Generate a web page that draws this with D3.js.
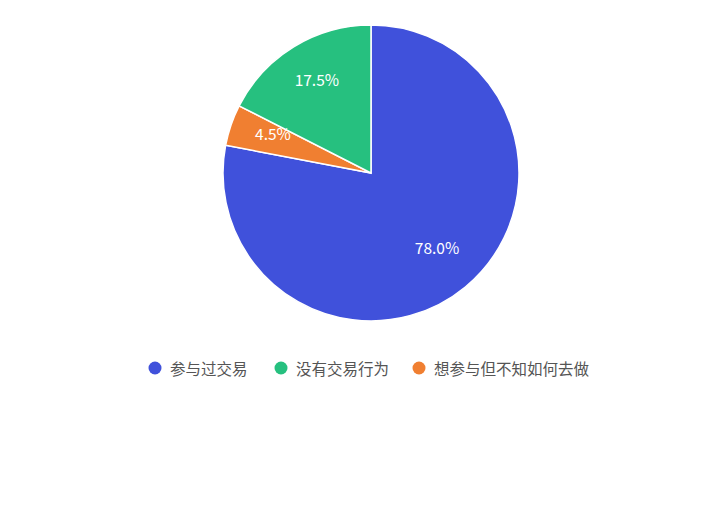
<!DOCTYPE html>
<html>
<head>
<meta charset="utf-8">
<script src="https://cdn.jsdelivr.net/npm/d3@7"></script>
<style>
  body { margin: 0; background: #fff; }
  svg { display: block; font-family: "Noto Sans CJK SC", "Noto Sans", sans-serif; }
</style>
</head>
<body>
<div id="chart"></div>
<script>
// Data
var categories = ["参与过交易", "想参与但不知如何去做", "没有交易行为"];
var values = [78.0, 4.5, 17.5];
var colors = ["#4051db", "#f07f31", "#26c07f"];
var legendOrder = [0, 2, 1];

var width = 720, height = 507;
var cx = 371, cy = 173, radius = 148;

var svg = d3.select("#chart").append("svg")
	.attr("width", width)
	.attr("height", height);

var pie = d3.pie().sort(null).value(function(d){ return d; });
var arc = d3.arc().innerRadius(0).outerRadius(radius);
var labelArc = d3.arc().innerRadius(radius * 0.7).outerRadius(radius * 0.7);

var g = svg.append("g").attr("transform", "translate(" + cx + "," + cy + ")");

var arcs = pie(values);

g.selectAll("path")
	.data(arcs)
	.enter().append("path")
	.attr("d", arc)
	.attr("fill", function(d, i){ return colors[i]; })
	.attr("stroke", "#fff")
	.attr("stroke-width", 1.5);

g.selectAll("text")
	.data(arcs)
	.enter().append("text")
	.attr("transform", function(d){
		var c = labelArc.centroid(d);
		return "translate(" + c[0] + "," + (c[1] - 6) + ")";
	})
	.attr("text-anchor", "middle")
	.attr("dominant-baseline", "central")
	.attr("fill", "#fff")
	.style("font-size", "15.5px")
	.text(function(d){ return d.data.toFixed(1) + "%"; });

// Legend
var legendX = [155, 281, 419];
var legend = svg.append("g");
legendOrder.forEach(function(idx, k){
	var item = legend.append("g").attr("transform", "translate(" + legendX[k] + ",368)");
	item.append("circle").attr("r", 6.5).attr("fill", colors[idx]);
	item.append("text")
		.attr("x", 15)
		.attr("dominant-baseline", "central")
		.attr("fill", "#555")
		.style("font-size", "15.5px")
		.text(categories[idx]);
});
</script>
</body>
</html>
